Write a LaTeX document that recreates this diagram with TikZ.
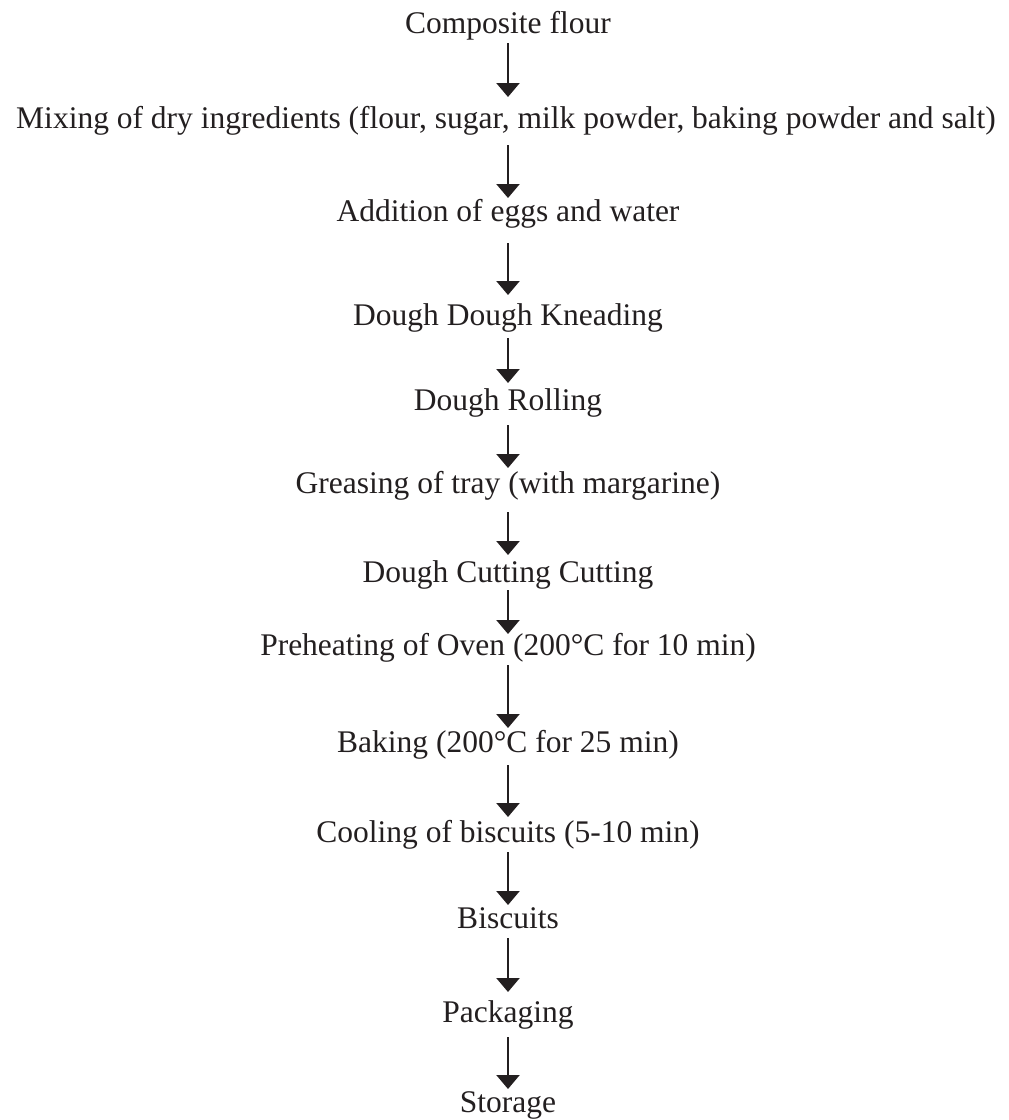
\documentclass[tikz,border=0pt]{standalone}
\usepackage{fontspec}
\setmainfont{Liberation Serif}
\usepackage{tikz}
\usetikzlibrary{arrows.meta}
\definecolor{ink}{HTML}{231F20}

\begin{document}
\begin{tikzpicture}[x=1pt,y=-1pt,
        stage/.style={inner sep=0pt,text height=0pt,text depth=0pt,anchor=base,text=ink,
            font=\fontsize{31.5}{37}\selectfont},
        flow/.style={draw=ink,line width=2.4pt,-{Triangle[width=23pt,length=14pt]}}]
        \useasboundingbox (0,0) rectangle (1009,1120);
        \node[stage] (comp) at (508,33) {Composite flour};
        \node[stage] (mix) at (506,128) {Mixing of dry ingredients (flour, sugar, milk powder, baking powder and salt)};
        \node[stage] (add) at (508,221) {Addition of eggs and water};
        \node[stage] (knead) at (508,325) {Dough Dough Kneading};
        \node[stage] (roll) at (508,410) {Dough Rolling};
        \node[stage] (grease) at (508,493) {Greasing of tray (with margarine)};
        \node[stage] (cut) at (508,582) {Dough Cutting Cutting};
        \node[stage] (preheat) at (508,655) {Preheating of Oven (200°C for 10 min)};
        \node[stage] (bake) at (508,752) {Baking (200°C for 25 min)};
        \node[stage] (cool) at (508,842) {Cooling of biscuits (5-10 min)};
        \node[stage] (bisc) at (508,928) {Biscuits};
        \node[stage] (pack) at (508,1022) {Packaging};
        \node[stage] (store) at (508,1112) {Storage};
        \draw[flow,shorten <=10pt,shorten >=31pt] (comp.base) -- (mix.base -| comp.base);
        \draw[flow,shorten <=17pt,shorten >=23pt] (mix.base -| add.base) -- (add.base);
        \draw[flow,shorten <=22pt,shorten >=30pt] (add.base) -- (knead.base);
        \draw[flow,shorten <=13pt,shorten >=27pt] (knead.base) -- (roll.base);
        \draw[flow,shorten <=15pt,shorten >=25pt] (roll.base) -- (grease.base);
        \draw[flow,shorten <=19pt,shorten >=27pt] (grease.base) -- (cut.base);
        \draw[flow,shorten <=8pt,shorten >=21pt] (cut.base) -- (preheat.base);
        \draw[flow,shorten <=10pt,shorten >=24pt] (preheat.base) -- (bake.base);
        \draw[flow,shorten <=13pt,shorten >=25pt] (bake.base) -- (cool.base);
        \draw[flow,shorten <=10pt,shorten >=23pt] (cool.base) -- (bisc.base);
        \draw[flow,shorten <=10pt,shorten >=30pt] (bisc.base) -- (pack.base);
        \draw[flow,shorten <=15pt,shorten >=23pt] (pack.base) -- (store.base);
    \end{tikzpicture}
\end{document}
